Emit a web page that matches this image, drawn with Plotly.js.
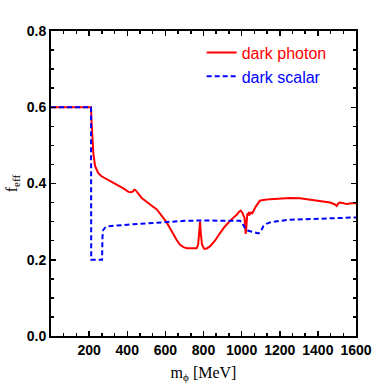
<!DOCTYPE html>
<html>
<head>
<meta charset="utf-8">
<script src="https://cdn.plot.ly/plotly-3.0.1.min.js"></script>
<style>html,body{margin:0;padding:0;background:#fff;}#chart{width:374px;height:388px;}</style>
</head>
<body>
<div id="chart"></div>
<script>
// dark photon
const photonMass = [0, 210, 212, 215, 217, 222, 231, 248, 265, 283, 310, 353, 380, 406, 420, 430, 437, 443, 450, 476, 520, 555, 589, 607, 625, 642, 660, 677, 695, 712, 740, 764, 772, 778, 782, 786, 792, 803, 815, 834, 860, 887, 910, 939, 960, 974, 987, 995, 1003, 1009, 1015, 1019, 1021, 1024, 1027, 1030, 1035, 1039, 1044, 1050, 1056, 1075, 1096, 1114, 1150, 1201, 1254, 1306, 1340, 1376, 1420, 1464, 1490, 1499, 1506, 1513, 1530, 1551, 1575, 1600];
const photonEff  = [0.6, 0.6, 0.57, 0.535, 0.52, 0.48, 0.446, 0.427, 0.419, 0.414, 0.407, 0.396, 0.387, 0.378, 0.377, 0.379, 0.384, 0.383, 0.378, 0.362, 0.345, 0.332, 0.31, 0.298, 0.282, 0.265, 0.251, 0.239, 0.233, 0.23, 0.229, 0.23, 0.24, 0.27, 0.3, 0.27, 0.24, 0.229, 0.229, 0.235, 0.25, 0.27, 0.286, 0.302, 0.311, 0.318, 0.326, 0.329, 0.324, 0.316, 0.31, 0.29, 0.268, 0.28, 0.303, 0.322, 0.316, 0.325, 0.32, 0.324, 0.322, 0.34, 0.355, 0.357, 0.359, 0.361, 0.362, 0.361, 0.359, 0.355, 0.353, 0.35, 0.345, 0.341, 0.347, 0.35, 0.349, 0.346, 0.348, 0.348];
// dark scalar
const scalarMass = [0, 210, 211, 268, 270, 274, 283, 300, 400, 500, 600, 700, 800, 900, 990, 1000, 1010, 1018, 1035, 1060, 1088, 1100, 1114, 1130, 1149, 1201, 1254, 1376, 1500, 1600];
const scalarEff  = [0.6, 0.6, 0.2, 0.2, 0.26, 0.278, 0.284, 0.288, 0.292, 0.295, 0.299, 0.302, 0.303, 0.303, 0.302, 0.3, 0.29, 0.282, 0.276, 0.272, 0.269, 0.274, 0.288, 0.294, 0.298, 0.302, 0.305, 0.307, 0.309, 0.311];
// ticks
const xTicks = [200, 400, 600, 800, 1000, 1200, 1400, 1600];
const xTickLabels = ['200', '400', '600', '800', '1000', '1200', '1400', '1600'];
const yTicks = [0, 0.2, 0.4, 0.6, 0.8];
const yTickLabels = ['0.0', '0.2', '0.4', '0.6', '0.8'];

const tickFont = {family: 'Liberation Sans, Arial, sans-serif', size: 14, color: '#000', weight: 'bold'};
const titleFont = {family: 'Liberation Serif, Times New Roman, serif', size: 16, color: '#000'};

const traces = [
  {x: photonMass, y: photonEff, type: 'scatter', mode: 'lines',
   name: '<span style="color:#ff0000">dark photon</span>',
   line: {color: '#ff0000', width: 2}},
  {x: scalarMass, y: scalarEff, type: 'scatter', mode: 'lines',
   name: '<span style="color:#0000ff">dark scalar</span>',
   line: {color: '#0000ff', width: 2, dash: '5px,3px'}}
];

const layout = {
  width: 374, height: 388,
  margin: {l: 51, r: 18, t: 31, b: 52},
  paper_bgcolor: '#fff', plot_bgcolor: '#fff',
  showlegend: true,
  legend: {x: 0.494, y: 0.985, xanchor: 'left', yanchor: 'top', bgcolor: 'rgba(0,0,0,0)',
           font: {family: 'Liberation Sans, Arial, sans-serif', size: 16}, tracegroupgap: 0},
  xaxis: {
    range: [0, 1600], showgrid: false, zeroline: false,
    showline: true, linecolor: '#000', linewidth: 2, mirror: 'ticks',
    ticks: 'inside', ticklen: 5, tickwidth: 1.5, tickcolor: '#000',
    tickvals: xTicks, ticktext: xTickLabels, tickfont: tickFont,
    minor: {ticks: 'inside', ticklen: 3, tickwidth: 1.5, tickcolor: '#000', tick0: 0, dtick: 200/3, showgrid: false},
    title: {text: 'm<sub>ϕ</sub> [MeV]', font: titleFont, standoff: 10}
  },
  yaxis: {
    range: [0, 0.8], showgrid: false, zeroline: false,
    showline: true, linecolor: '#000', linewidth: 2, mirror: 'ticks',
    ticks: 'inside', ticklen: 5, tickwidth: 1.5, tickcolor: '#000',
    tickvals: yTicks, ticktext: yTickLabels, tickfont: tickFont,
    minor: {ticks: 'inside', ticklen: 3, tickwidth: 1.5, tickcolor: '#000', tick0: 0, dtick: 0.05, showgrid: false},
    title: {text: 'f<sub>eff</sub>', font: titleFont, standoff: 5}
  }
};

Plotly.newPlot('chart', traces, layout, {displayModeBar: false, staticPlot: true});
</script>
</body>
</html>
